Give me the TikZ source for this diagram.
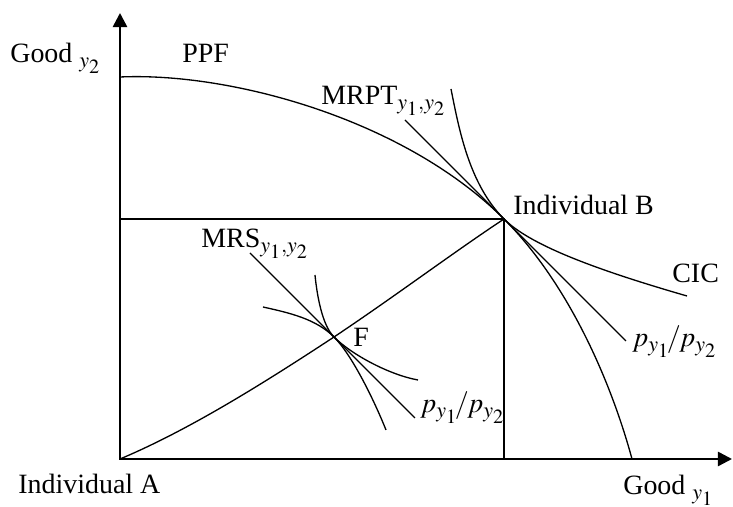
\documentclass[tikz,border=0pt]{standalone}
\usepackage{mathptmx}
\usepackage{fontspec}
\setmainfont{Liberation Serif}
\usetikzlibrary{arrows.meta}
\DeclareMathSizes{15.9}{15.9}{12.5}{11.5}
\newcommand{\pratio}{$p_{y_1}\mkern-2mu/\mkern-1mu p_{y_2}$}

\begin{document}
\begin{tikzpicture}

    \tikzset{lbl/.style={anchor=base west,inner sep=0pt,font=\fontsize{15.9}{19}\selectfont}}
    \tikzstyle{curve}=[line width=0.75pt]
    \tikzstyle{axis}=[line width=1.4pt,line join=miter,arrows={Triangle[width=8pt,length=8pt]-Triangle[width=8pt,length=8pt]}]

    \useasboundingbox (-2.4,-0.96) rectangle (12.26,9.18);

    % points
    \coordinate (O) at (0,0);
    \coordinate (ytip) at (0,8.92);
    \coordinate (xtip) at (12.24,0);
    \coordinate (B) at (7.68,4.8);
    \coordinate (F) at (4.28,2.44);
    \coordinate (ppfa) at (0,7.64);
    \coordinate (ppfb) at (10.24,0);
    \coordinate (Bx) at (7.68,0);
    \coordinate (By) at (0,4.8);

    \draw[axis] (ytip) -- (O) -- (xtip);

    \draw[curve] (ppfa) .. controls (2.2,7.74) and (5.68,6.8) .. (B)
                        .. controls (9.0,3.48) and (9.84,1.48) .. (ppfb);
    \draw[curve] (By) -- (B) -- (Bx);
    \draw[curve] (O) .. controls (1.38,0.58) and (2.88,1.52) .. (F)
                     .. controls (5.48,3.24) and (6.68,4.14) .. (B);

    % tangency at B
    \coordinate (tBa) at (5.7,6.78);
    \coordinate (tBb) at (10.12,2.36);
    \coordinate (cica) at (6.62,7.4);
    \coordinate (cicb) at (11.34,3.26);
    \draw[curve] (tBa) -- (tBb);
    \draw[curve] (cica) .. controls (6.78,6.6) and (6.98,5.5) .. (B)
                        .. controls (8.18,4.3) and (9.4,3.82) .. (cicb);

    % tangency at F
    \coordinate (tFa) at (2.6,4.12);
    \coordinate (tFb) at (5.9,0.82);
    \coordinate (icAa) at (3.9,3.68);
    \coordinate (icAb) at (5.96,1.58);
    \coordinate (icBa) at (2.86,3.04);
    \coordinate (icBb) at (5.32,0.58);
    \draw[curve] (tFa) -- (tFb);
    \draw[curve] (icAa) .. controls (3.94,3.28) and (4.04,2.68) .. (F)
                        .. controls (4.64,2.08) and (5.4,1.68) .. (icAb);
    \draw[curve] (icBa) .. controls (3.4,2.92) and (3.92,2.8) .. (F)
                        .. controls (4.64,2.08) and (5.08,1.18) .. (icBb);

    \node(goodytwo)[lbl] at (-2.2,7.92) {Good $_{y_2}$};
    \node(ppf)[lbl] at (1.24,7.92) {PPF};
    \node(mrpt)[lbl] at (4.02,7.08) {MRPT$_{y_1,y_2}$};
    \node(indb)[lbl] at (7.86,4.88) {Individual B};
    \node(mrs)[lbl] at (1.62,4.22) {MRS$_{y_1,y_2}$};
    \node(flabel)[lbl] at (4.66,2.24) {F};
    \node(pratiof)[lbl] at (6.0,0.92) {\pratio};
    \node(cic)[lbl] at (11.04,3.52) {CIC};
    \node(pratiob)[lbl] at (10.24,2.24) {\pratio};
    \node(inda)[lbl] at (-2.04,-0.7) {Individual A};
    \node(goodyone)[lbl] at (10.06,-0.72) {Good $_{y_1}$};

\end{tikzpicture}
\end{document}
